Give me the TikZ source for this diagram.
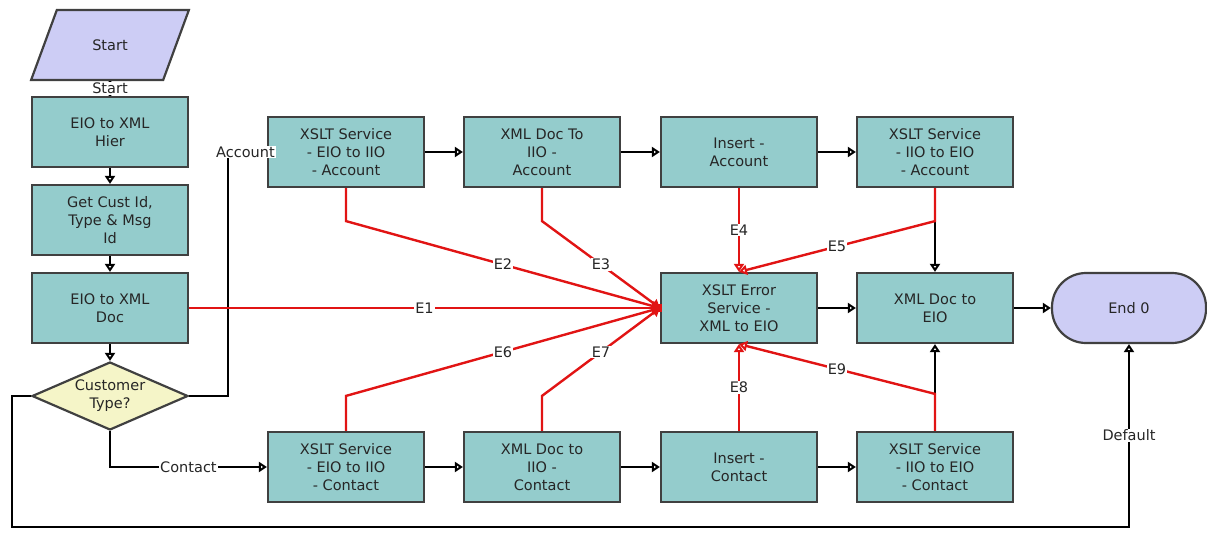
\documentclass[tikz,border=0pt]{standalone}
\usepackage{fontspec}
\setmainfont{DejaVu Sans}
\usetikzlibrary{arrows.meta,shapes.geometric}
\definecolor{boxteal}{RGB}{148,204,204}
\definecolor{endlav}{RGB}{205,205,245}
\definecolor{decyel}{RGB}{245,245,200}
\definecolor{errred}{RGB}{225,20,20}

\begin{document}
\begin{tikzpicture}[x=1pt,y=-1pt]
    \tikzstyle{every node}=[font=\fontsize{14.5}{18}\selectfont, text=black!85, align=center];
    \tikzstyle{task}=[draw=black!75, line width=2.2pt, fill=boxteal, minimum width=156pt, minimum height=70pt, inner sep=0pt];
    \tikzstyle{flow}=[draw=black, line width=2.6pt, -{Triangle[open,length=8pt,width=10pt]}];
    \tikzstyle{fault}=[draw=errred, line width=2.4pt, -{Triangle[open,length=8pt,width=10pt]}];
    \tikzstyle{lbl}=[fill=white, inner sep=1pt];
    \useasboundingbox (0,0) rectangle (1207,538);

    % left column
    \node[trapezium, trapezium left angle=60, trapezium right angle=120, trapezium stretches=true,
          minimum width=158pt, minimum height=70pt, draw=black!75, line width=2.2pt, fill=endlav] (start) at (110,45) {Start};
    \node[task] (hier) at (110,132) {EIO to XML\\Hier};
    \node[task] (cust) at (110,220) {Get Cust Id,\\Type \& Msg\\Id};
    \node[task] (doc) at (110,308) {EIO to XML\\Doc};
    \node[diamond, aspect=2.3, inner sep=0pt, minimum width=156pt, minimum height=68pt,
          draw=black!75, line width=2.2pt, fill=decyel] (ctype) at (110,396) {Customer\\Type?};

    % account row
    \node[task] (xa1) at (346,152) {XSLT Service\\- EIO to IIO\\- Account};
    \node[task] (xa2) at (542,152) {XML Doc To\\IIO -\\Account};
    \node[task] (ia) at (739,152) {Insert -\\Account};
    \node[task] (xa4) at (935,152) {XSLT Service\\- IIO to EIO\\- Account};

    % middle row
    \node[task] (err) at (739,308) {XSLT Error\\Service -\\XML to EIO};
    \node[task] (x2e) at (935,308) {XML Doc to\\EIO};
    \node[draw=black!75, line width=2.2pt, fill=endlav, rounded corners=34pt,
          minimum width=154pt, minimum height=70pt] (fin) at (1129,308) {End 0};

    % contact row
    \node[task] (xc1) at (346,467) {XSLT Service\\- EIO to IIO\\- Contact};
    \node[task] (xc2) at (542,467) {XML Doc to\\IIO -\\Contact};
    \node[task] (ic) at (739,467) {Insert -\\Contact};
    \node[task] (xc4) at (935,467) {XSLT Service\\- IIO to EIO\\- Contact};

    \coordinate (acc) at (228,152);
    \coordinate (dfa) at (12,396);
    \coordinate (dfb) at (12,527);
    \coordinate (hub) at (err.west);

    % main flow
    \draw[flow, -] (start) -- node[lbl]{Start} (hier);
    \draw[flow] (hier) -- (cust);
    \draw[flow] (cust) -- (doc);
    \draw[flow] (doc) -- (ctype);
    \draw[flow] (ctype.east) -| (acc) -- node[lbl, pos=0.45]{Account} (xa1.west);
    \draw[flow] (ctype.south) |- node[lbl, pos=0.75]{Contact} (xc1.west);
    \draw[flow] (ctype.west) -- (dfa) -- (dfb) -| node[lbl, pos=0.75]{Default} (fin.south);
    \draw[flow] (xa1) -- (xa2);
    \draw[flow] (xa2) -- (ia);
    \draw[flow] (ia) -- (xa4);
    \draw[flow] (xc1) -- (xc2);
    \draw[flow] (xc2) -- (ic);
    \draw[flow] (ic) -- (xc4);
    \draw[flow] (xa4) -- (x2e);
    \draw[flow] (xc4) -- (x2e);
    \draw[flow] (err) -- (x2e);
    \draw[flow] (x2e) -- (fin);

    % error paths
    \draw[fault] (doc.east) -- node[lbl]{E1} (hub);
    \draw[fault] (xa1.south) -- ++(0,33) -- node[lbl]{E2} (hub);
    \draw[fault] (xa2.south) -- ++(0,33) -- node[lbl]{E3} (hub);
    \draw[fault] (ia) -- node[lbl]{E4} (err);
    \draw[fault] (xa4.south) -- ++(0,33) -- node[lbl]{E5} (err.north);
    \draw[fault] (xc1.north) -- ++(0,-35) -- node[lbl]{E6} (hub);
    \draw[fault] (xc2.north) -- ++(0,-35) -- node[lbl]{E7} (hub);
    \draw[fault] (ic) -- node[lbl]{E8} (err);
    \draw[fault] (xc4.north) -- ++(0,-37) -- node[lbl]{E9} (err.south);
    \fill[errred] ([xshift=-4pt,yshift=-4pt]hub) rectangle ([xshift=2pt,yshift=4pt]hub);
\end{tikzpicture}
\end{document}
